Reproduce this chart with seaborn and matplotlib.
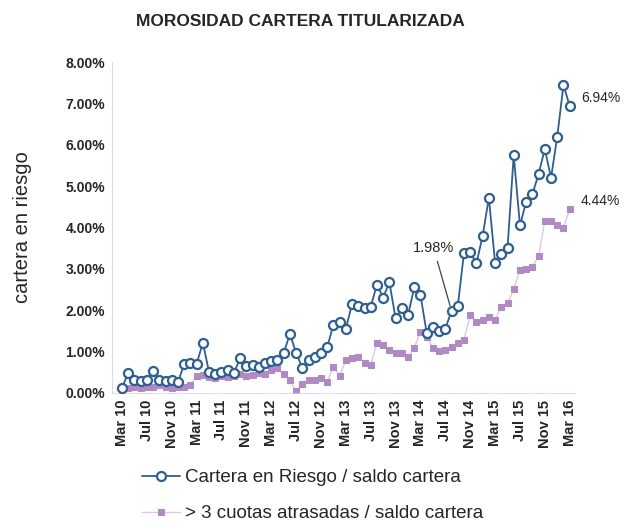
import numpy as np
import pandas as pd
import matplotlib
matplotlib.use('Agg')
import matplotlib.pyplot as plt
import seaborn as sns

# datos (en %)
meses = ['Mar 10', 'Jul 10', 'Nov 10', 'Mar 11', 'Jul 11', 'Nov 11', 'Mar 12', 'Jul 12', 'Nov 12',
         'Mar 13', 'Jul 13', 'Nov 13', 'Mar 14', 'Jul 14', 'Nov 14', 'Mar 15', 'Jul 15', 'Nov 15', 'Mar 16']

cartera_riesgo = [0.12, 0.48, 0.30, 0.28, 0.30, 0.52, 0.30, 0.28, 0.30, 0.25, 0.70, 0.72,
                  0.70, 1.21, 0.50, 0.45, 0.50, 0.55, 0.48, 0.84, 0.65, 0.68, 0.62, 0.72,
                  0.76, 0.80, 0.96, 1.42, 0.97, 0.60, 0.80, 0.87, 0.97, 1.10, 1.65, 1.72,
                  1.55, 2.15, 2.10, 2.05, 2.08, 2.62, 2.30, 2.68, 1.80, 2.05, 1.88, 2.55,
                  2.37, 1.45, 1.60, 1.50, 1.55, 1.98, 2.10, 3.38, 3.40, 3.13, 3.80, 4.72,
                  3.15, 3.35, 3.50, 5.75, 4.05, 4.62, 4.80, 5.30, 5.90, 5.20, 6.20, 7.45,
                  6.94]

cuotas_atrasadas = [0.05, 0.12, 0.15, 0.12, 0.15, 0.15, 0.18, 0.15, 0.12, 0.15, 0.15, 0.20,
                    0.40, 0.42, 0.38, 0.35, 0.40, 0.38, 0.40, 0.45, 0.40, 0.42, 0.48, 0.45,
                    0.55, 0.60, 0.45, 0.30, 0.05, 0.22, 0.30, 0.32, 0.36, 0.27, 0.63, 0.40,
                    0.80, 0.85, 0.87, 0.72, 0.68, 1.20, 1.16, 1.04, 0.97, 0.97, 0.87, 1.09,
                    1.47, 1.35, 1.09, 1.00, 1.04, 1.10, 1.20, 1.28, 1.88, 1.72, 1.76, 1.84,
                    1.76, 2.08, 2.17, 2.50, 2.97, 3.00, 3.05, 3.30, 4.15, 4.15, 4.05, 4.00,
                    4.44]

df = pd.DataFrame({
    'mes': np.arange(len(cartera_riesgo)),
    'riesgo': np.array(cartera_riesgo) / 100,
    'cuotas': np.array(cuotas_atrasadas) / 100,
})

sns.set_style('white')
plt.rcParams['font.family'] = ['Liberation Sans', 'DejaVu Sans']

fig = plt.figure(figsize=(6.26, 5.23), dpi=100)
ax = fig.add_axes([0.179, 0.249, 0.739, 0.632])

azul = '#2f5f8f'
lila = '#b08ac4'

sns.lineplot(data=df, x='mes', y='cuotas', ax=ax, color='#dcc8e4', linewidth=1.0,
             marker='s', markersize=4.5, markerfacecolor=lila, markeredgecolor=lila,
             label='> 3 cuotas atrasadas / saldo cartera', zorder=2)
sns.lineplot(data=df, x='mes', y='riesgo', ax=ax, color=azul, linewidth=1.3,
             marker='o', markersize=6.5, markerfacecolor='white', markeredgecolor=azul,
             markeredgewidth=1.6, label='Cartera en Riesgo / saldo cartera', zorder=3)

ax.set_ylim(0, 0.08)
ax.set_xlim(-1.6, 72.8)
ax.set_yticks(np.arange(0, 0.081, 0.01))
ax.set_yticklabels([f'{v:.2f}%' for v in np.arange(0, 8.01, 1)], fontsize=10, fontweight='bold')
ax.set_xticks(np.arange(0, 73, 4))
ax.set_xticklabels(meses, rotation=90, fontsize=10.5, fontweight='bold')
ax.tick_params(axis='both', length=0, pad=5)

ax.set_xlabel('')
ax.set_ylabel('cartera en riesgo', fontsize=14.5, labelpad=24)

for s in ['top', 'right']:
    ax.spines[s].set_visible(False)
ax.spines['left'].set_color('#d8dce6')
ax.spines['bottom'].set_color('#d8d0e8')
ax.spines['bottom'].set_linestyle(':')

fig.text(0.48, 0.958, 'MOROSIDAD CARTERA TITULARIZADA', fontsize=12.5, fontweight='bold',
         ha='center', va='center')

# etiquetas de valores
ax.annotate('6.94%', xy=(72, cartera_riesgo[-1] / 100), xytext=(8, 6), textcoords='offset points',
            fontsize=10, va='center', annotation_clip=False)
ax.annotate('4.44%', xy=(72, cuotas_atrasadas[-1] / 100), xytext=(8, 6), textcoords='offset points',
            fontsize=10, va='center', annotation_clip=False)
ax.annotate('1.98%', xy=(53, cartera_riesgo[53] / 100), xytext=(2, 40), textcoords='offset points',
            fontsize=10.5, ha='right', va='bottom',
            arrowprops=dict(arrowstyle='-', color='#444444', lw=0.9, shrinkA=2, shrinkB=4))

handles, labels = ax.get_legend_handles_labels()
ax.get_legend().remove()
fig.legend(handles[::-1], labels[::-1], loc='upper center', bbox_to_anchor=(0.5, 0.135),
           frameon=False, fontsize=13.5, labelspacing=1.0, handlelength=2.0, handletextpad=0.3)

fig.savefig('out.png', dpi=100)
